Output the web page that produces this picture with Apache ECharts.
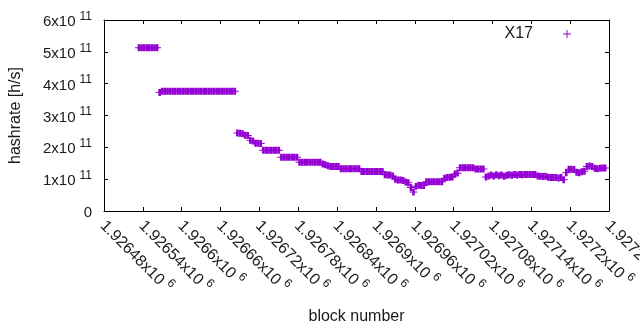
<!DOCTYPE html>
<html>
<head>
<meta charset="utf-8">
<script src="https://cdn.jsdelivr.net/npm/echarts@6/dist/echarts.min.js"></script>
<style>
  html, body { margin: 0; padding: 0; background: #fff; }
  #chart { width: 640px; height: 330px; }
</style>
</head>
<body>
<div id="chart"></div>
<script>
// block numbers (every ~4 blocks)
var blocks = [
  1926534, 1926538, 1926542, 1926546, 1926550, 1926554, 1926558, 1926562,
  1926566, 1926570, 1926574, 1926578, 1926582, 1926586, 1926590, 1926594, 1926598, 1926602,
  1926606, 1926610, 1926614, 1926618, 1926622, 1926626, 1926630, 1926634, 1926638, 1926642,
  1926646, 1926650, 1926654, 1926658, 1926662, 1926666, 1926670, 1926674, 1926678, 1926682,
  1926686, 1926690, 1926694, 1926698, 1926702, 1926706, 1926710, 1926714, 1926718, 1926722,
  1926726, 1926730, 1926734, 1926738, 1926742, 1926746, 1926750,
  1926754, 1926758, 1926762, 1926766, 1926770, 1926774, 1926778,
  1926782, 1926786, 1926790, 1926794, 1926798, 1926802, 1926806, 1926810, 1926814,
  1926818, 1926822, 1926826, 1926830, 1926834, 1926838, 1926842,
  1926846, 1926850, 1926854, 1926858, 1926862, 1926866, 1926870, 1926874,
  1926878, 1926882, 1926886, 1926890, 1926894, 1926898, 1926902, 1926906, 1926910,
  1926914, 1926918, 1926922, 1926926, 1926930, 1926934, 1926938, 1926942, 1926946, 1926950,
  1926954, 1926958, 1926962, 1926966, 1926970, 1926974,
  1926978, 1926982, 1926986, 1926990, 1926994, 1926998, 1927002,
  1927006, 1927010, 1927014, 1927018, 1927022, 1927026,
  1927030, 1927034, 1927038, 1927042, 1927046, 1927050, 1927054, 1927058, 1927062, 1927066,
  1927070, 1927074, 1927078, 1927082, 1927086, 1927090, 1927094, 1927098, 1927102, 1927106,
  1927110, 1927114, 1927118, 1927122, 1927126,
  1927130, 1927134, 1927138, 1927142, 1927146, 1927150, 1927154, 1927158, 1927162,
  1927166, 1927170, 1927174, 1927178, 1927182, 1927186, 1927190,
  1927194, 1927198, 1927202, 1927206, 1927210, 1927214, 1927218, 1927222,
  1927226, 1927230, 1927234, 1927238, 1927242, 1927246, 1927250, 1927254
];
// hashrate in units of 10^11 h/s
var hashrate = [
  5.13, 5.13, 5.13, 5.13, 5.13, 5.13, 5.13, 5.13,
  3.72, 3.76, 3.76, 3.76, 3.76, 3.76, 3.76, 3.76, 3.76, 3.76,
  3.76, 3.76, 3.76, 3.76, 3.76, 3.76, 3.76, 3.76, 3.76, 3.76,
  3.76, 3.76, 3.76, 3.76, 3.76, 3.76, 3.76, 3.76, 3.76, 3.76,
  2.45, 2.44, 2.43, 2.38, 2.37, 2.22, 2.20, 2.13, 2.13, 2.12,
  1.91, 1.91, 1.91, 1.91, 1.91, 1.91, 1.91,
  1.69, 1.69, 1.69, 1.69, 1.69, 1.69, 1.69,
  1.53, 1.53, 1.53, 1.53, 1.53, 1.53, 1.53, 1.53, 1.53,
  1.48, 1.45, 1.42, 1.40, 1.40, 1.40, 1.40,
  1.33, 1.33, 1.33, 1.33, 1.33, 1.33, 1.33, 1.33,
  1.24, 1.24, 1.24, 1.24, 1.24, 1.24, 1.24, 1.24, 1.24,
  1.14, 1.13, 1.13, 1.10, 1.00, 0.97, 0.97, 0.96, 0.91, 0.89,
  0.74, 0.60, 0.78, 0.81, 0.80, 0.80,
  0.92, 0.92, 0.92, 0.92, 0.92, 0.92, 0.92,
  1.03, 1.05, 1.06, 1.07, 1.16, 1.19,
  1.36, 1.36, 1.36, 1.36, 1.36, 1.36, 1.32, 1.32, 1.32, 1.32,
  1.07, 1.10, 1.13, 1.10, 1.14, 1.11, 1.13, 1.09, 1.12, 1.14,
  1.12, 1.15, 1.13, 1.15, 1.14,
  1.15, 1.15, 1.15, 1.15, 1.15, 1.10, 1.09, 1.08, 1.09,
  1.06, 1.05, 1.05, 1.05, 1.04, 1.05, 0.98,
  1.20, 1.31, 1.31, 1.30, 1.22, 1.20, 1.23, 1.25,
  1.40, 1.41, 1.40, 1.34, 1.33, 1.34, 1.35, 1.35
];
var xTicksMin = 1926480, xTicksMax = 1927260, xStep = 60;
var yMin = 0, yMax = 6, yStep = 1;
var seriesName = 'X17';

var points = blocks.map(function (b, i) { return [b, hashrate[i]]; });

var plusFat = 'path://M0,3.5H8V4.6H0Z M2.7,0H5.3V8H2.7Z';
var plusThin = 'path://M0,3.5H8V4.5H0Z M3.5,0H4.5V8H3.5Z';
var ink = '#1a1a1a';
var violet = '#9400d3';
var font = 'Liberation Sans, Arial, sans-serif';

var chart = echarts.init(document.getElementById('chart'));
chart.setOption({
  animation: false,
  textStyle: { fontFamily: font, color: ink },
  grid: { left: 104, right: 31, top: 20, bottom: 119, containLabel: false, outerBoundsMode: 'none' },
  legend: {
    data: [{ name: seriesName, icon: plusThin }],
    right: 64, top: 21,
    align: 'right',
    itemWidth: 8, itemHeight: 8,
    textStyle: { fontSize: 16, color: ink, fontFamily: font, padding: [0, 25, 0, 0] }
  },
  xAxis: [{
    type: 'value', min: xTicksMin, max: xTicksMax, interval: xStep,
    name: 'block number', nameLocation: 'middle', nameGap: 98,
    nameTextStyle: { fontSize: 16, color: ink, fontFamily: font },
    axisLine: { show: true, onZero: false, lineStyle: { color: '#000' } },
    axisTick: { inside: true, length: 4, lineStyle: { color: '#000' } },
    splitLine: { show: false },
    axisLabel: {
      rotate: -45, margin: 11, color: ink, showMaxLabel: true, hideOverlap: false,
      formatter: function (v) { return '{a|' + (+(v / 1e6).toFixed(5)) + 'x10}{s|6}'; },
      rich: {
        a: { fontSize: 16, fontFamily: font, color: ink, padding: [4, 0, 0, 0], verticalAlign: 'bottom' },
        s: { fontSize: 12, fontFamily: font, color: ink, padding: [0, 0, 0, 4], verticalAlign: 'top' }
      }
    }
  }, {
    type: 'value', position: 'top', min: xTicksMin, max: xTicksMax, interval: xStep,
    axisLine: { show: true, onZero: false, lineStyle: { color: '#000' } },
    axisTick: { inside: true, length: 4, lineStyle: { color: '#000' } },
    axisLabel: { show: false }, splitLine: { show: false }
  }],
  yAxis: [{
    type: 'value', min: yMin, max: yMax, interval: yStep,
    name: 'hashrate [h/s]', nameLocation: 'middle', nameGap: 80,
    nameTextStyle: { fontSize: 16, color: ink, fontFamily: font },
    axisLine: { show: true, onZero: false, lineStyle: { color: '#000' } },
    axisTick: { inside: true, length: 4, lineStyle: { color: '#000' } },
    splitLine: { show: false },
    axisLabel: {
      margin: 12, color: ink,
      formatter: function (v) { return v === 0 ? '{a|0}' : '{a|' + v + 'x10}{s|11}'; },
      rich: {
        a: { fontSize: 15, fontFamily: font, color: ink, padding: [4, 0, 0, 0], verticalAlign: 'bottom' },
        s: { fontSize: 12, fontFamily: font, color: ink, padding: [0, 0, 0, 4], verticalAlign: 'top' }
      }
    }
  }, {
    type: 'value', position: 'right', min: yMin, max: yMax, interval: yStep,
    axisLine: { show: true, onZero: false, lineStyle: { color: '#000' } },
    axisTick: { inside: true, length: 4, lineStyle: { color: '#000' } },
    axisLabel: { show: false }, splitLine: { show: false }
  }],
  series: [{
    name: seriesName,
    type: 'scatter',
    data: points,
    symbol: plusFat,
    symbolSize: [8, 7],
    itemStyle: { color: violet, opacity: 1 },
    emphasis: { disabled: true }
  }]
});
</script>
</body>
</html>
